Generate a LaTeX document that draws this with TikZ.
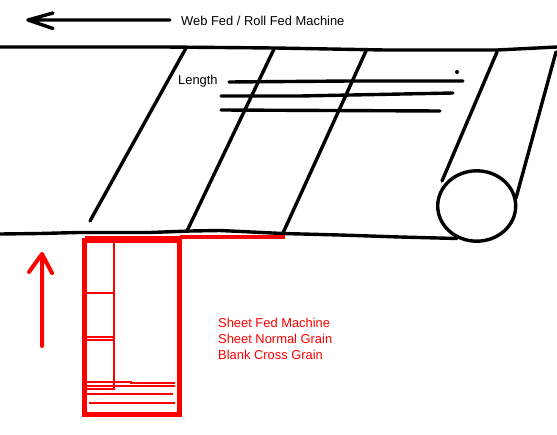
\documentclass[tikz,border=0pt]{standalone}
\usepackage{fontspec}
\setmainfont{Liberation Sans}
\tikzset{
  ink/.style={draw=black,line width=3.4pt,line cap=round,line join=round},
  sheet/.style={draw=red,line width=2pt},
  label/.style={inner sep=0pt,anchor=west,font=\fontsize{12.9}{15}\selectfont},
  redlabel/.style={label,text=red}
}
\begin{document}
\begin{tikzpicture}[x=1pt,y=-1pt]
\useasboundingbox (0,0) rectangle (557,434);
% top arrow
\draw[ink] (170,20) -- (28,20) (28,20) -- (53,13) (28,20) -- (53,28.5);
\node[label] (webfed) at (181,21) {Web Fed / Roll Fed Machine};
% web edges
\draw[ink] (0,47) -- (165,47) -- (275,48) -- (385,50) -- (497,50) -- (557,47);
\draw[ink] (0,234) -- (40,233.5) -- (78,232.5) -- (150,232.5) -- (190,231) -- (220,230.5) -- (283,233.5) -- (340,235) -- (400,237) -- (457,238.5);
% panels
\draw[ink] (186,48) -- (90,221);
\draw[ink] (274,49) -- (187,231);
\draw[ink] (366,51) -- (283,233);
\draw[ink] (497,52) -- (442,181);
\draw[ink] (556,52) -- (516,198);
\draw[draw=black,line width=3.4pt] (476.7,206) ellipse [x radius=39,y radius=35.2];
% length lines
\node[label] (length) at (178,81) {Length};
\draw[ink] (229,82) -- (350,81) -- (463,81);
\draw[ink] (221,96) -- (300,96) -- (453,93);
\draw[ink] (221,110) -- (440,111);
\fill (457,72) circle [radius=2];
% red sheet
\draw[draw=red,line width=5pt] (84.5,240) rectangle (179.5,414.5);
\draw[draw=red,line width=5pt] (85,238) -- (180,238);
\draw[draw=red,line width=3.5pt] (180,237) -- (285,237);
\draw[sheet] (114,243) -- (114,390);
\draw[sheet] (87,292.7) -- (114,292.7);
\draw[sheet] (87,336.7) -- (114,336.7);
\draw[sheet] (87,340) -- (114,340);
\draw[sheet] (87,389) -- (114,389);
\draw[sheet] (87,382) -- (131,382) -- (131,383) -- (175,383);
\draw[sheet] (87,386) -- (175,386);
\draw[sheet] (87,394) -- (173,394);
\draw[sheet] (89,403) -- (175,403);
% red arrow
\draw[draw=red,line width=4pt,line cap=round,line join=round] (42,346) -- (42,254) (29,272) -- (42,254) -- (52,273);
% red text
\node[redlabel] (sheetfed) at (218,323) {Sheet Fed Machine};
\node[redlabel] (sheetnormal) at (218,339) {Sheet Normal Grain};
\node[redlabel] (blank) at (218,355) {Blank Cross Grain};
\end{tikzpicture}
\end{document}
